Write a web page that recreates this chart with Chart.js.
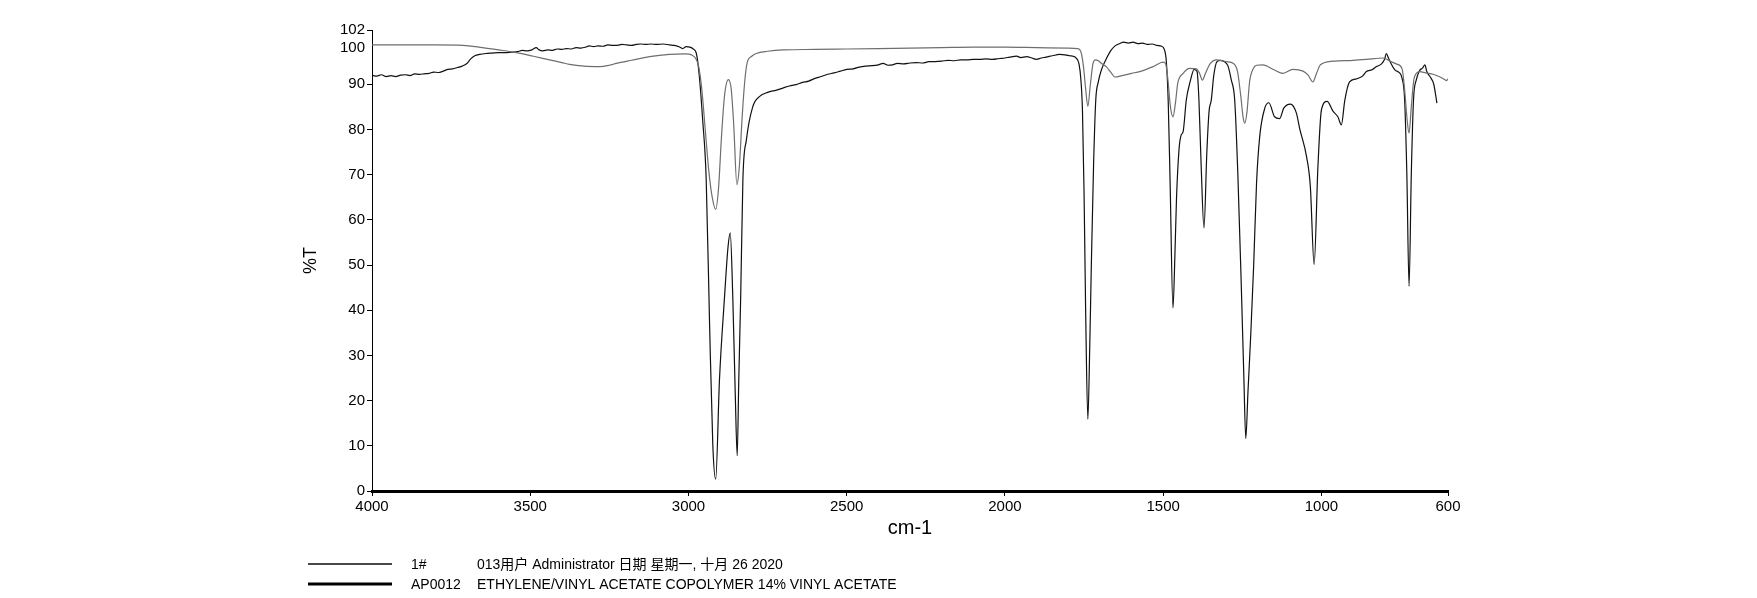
<!DOCTYPE html>
<html>
<head>
<meta charset="utf-8">
<script src="https://cdn.jsdelivr.net/npm/chart.js@4.4.1/dist/chart.umd.min.js"></script>
<style>
  html, body { margin: 0; padding: 0; background: #fff; }
  canvas { display: block; }
</style>
</head>
<body>
<canvas id="ir-chart" width="1757" height="598"></canvas>
<script>
// wavenumber axis (cm-1) and %T axis
const xTicks = [4000, 3500, 3000, 2500, 2000, 1500, 1000, 600];
const yTicks = [0, 10, 20, 30, 40, 50, 60, 70, 80, 90, 100, 102];

// legend rows
const seriesNames = ['1#', 'AP0012'];
const seriesNotes = [
  '013用户 Administrator 日期 星期一, 十月 26 2020',
  'ETHYLENE/VINYL ACETATE COPOLYMER 14% VINYL ACETATE',
];

// 1# (smooth, shallow bands)
const sampleWn = [4000, 3900, 3800, 3713, 3651, 3600, 3544, 3490, 3439, 3400, 3376, 3330, 3281, 3250, 3228, 3180, 3123, 3060, 3010, 2990,
  2978, 2968, 2958, 2947, 2936, 2925, 2914, 2905, 2896, 2886, 2874, 2865, 2857, 2847, 2839, 2831, 2823, 2815, 2800, 2786,
  2750, 2700, 2600, 2500, 2400, 2300, 2200, 2100, 2000, 1900, 1800, 1770, 1760, 1752, 1745, 1738, 1730, 1722, 1714, 1705,
  1695, 1680, 1665, 1653, 1630, 1600, 1574, 1532, 1500, 1492, 1485, 1477, 1469, 1461, 1454, 1437, 1416, 1395, 1385, 1376,
  1367, 1352, 1332, 1300, 1278, 1265, 1255, 1247, 1242, 1235, 1227, 1215, 1205, 1185, 1150, 1121, 1090, 1058, 1042, 1027,
  1015, 1003, 963, 900, 858, 805, 780, 760, 745, 736, 729, 723, 716, 708, 700, 689, 670, 647, 625, 610, 605, 600];
const sampleT = [98.7, 98.7, 98.7, 98.6, 98.1, 97.6, 97.0, 96.2, 95.4, 94.8, 94.4, 94.0, 93.9, 94.2, 94.6, 95.3, 96.1, 96.6, 96.7, 96.5,
  95.8, 94.0, 89.0, 80.0, 71.0, 65.0, 62.3, 67.0, 78.0, 87.5, 91.0, 89.0, 81.0, 67.8, 72.0, 82.0, 90.0, 94.6, 96.2, 96.8,
  97.3, 97.6, 97.7, 97.8, 97.9, 98.0, 98.1, 98.2, 98.2, 98.1, 98.0, 97.9, 97.2, 94.0, 89.0, 85.1, 90.0, 94.5, 95.4, 95.2,
  94.6, 93.9, 92.6, 91.6, 91.9, 92.4, 92.8, 93.9, 94.9, 94.5, 91.0, 85.0, 82.8, 86.0, 90.2, 92.4, 93.5, 93.4, 92.4, 90.9,
  92.3, 94.5, 95.4, 95.0, 94.6, 92.8, 87.5, 82.5, 81.4, 84.0, 90.5, 93.5, 94.2, 94.3, 93.2, 92.4, 93.3, 92.9, 92.0, 90.5,
  92.5, 94.3, 95.1, 95.3, 95.5, 95.8, 95.0, 94.4, 93.4, 88.0, 82.0, 79.2, 85.0, 91.0, 92.4, 92.8, 92.5, 92.2, 91.6, 91.0, 90.8, 91.2];

// AP0012 (noisy, strong bands)
const refWn = [4000, 3985, 3970, 3955, 3940, 3925, 3910, 3895, 3880, 3865, 3850, 3835, 3820, 3805, 3790, 3775, 3760, 3745, 3730, 3715,
  3700, 3688, 3675, 3660, 3640, 3620, 3600, 3580, 3560, 3540, 3525, 3510, 3495, 3481, 3472, 3460, 3445, 3430, 3415, 3400,
  3386, 3370, 3355, 3340, 3325, 3313, 3300, 3285, 3270, 3255, 3240, 3225, 3210, 3195, 3180, 3165, 3150, 3135, 3120, 3100,
  3080, 3060, 3045, 3030, 3018, 3008, 2995, 2985, 2975, 2966, 2955, 2944, 2933, 2923, 2914, 2902, 2886, 2875, 2868, 2860,
  2852, 2846, 2841, 2835, 2828, 2817, 2797, 2775, 2750, 2722, 2700, 2681, 2660, 2640, 2620, 2600, 2580, 2560, 2540, 2520,
  2500, 2480, 2460, 2440, 2420, 2400, 2385, 2370, 2355, 2340, 2320, 2300, 2280, 2260, 2240, 2220, 2200, 2180, 2160, 2140,
  2120, 2100, 2080, 2060, 2040, 2017, 2000, 1985, 1963, 1950, 1931, 1915, 1901, 1885, 1870, 1850, 1827, 1810, 1795, 1785,
  1775, 1766, 1760, 1755, 1750, 1745, 1738, 1732, 1727, 1720, 1713, 1705, 1695, 1680, 1665, 1650, 1637, 1625, 1610, 1595,
  1580, 1565, 1550, 1535, 1520, 1505, 1497, 1490, 1484, 1478, 1469, 1463, 1458, 1450, 1443, 1437, 1427, 1415, 1402, 1393,
  1387, 1380, 1371, 1362, 1355, 1348, 1340, 1330, 1318, 1305, 1295, 1285, 1274, 1264, 1253, 1245, 1239, 1232, 1223, 1214,
  1205, 1195, 1179, 1166, 1148, 1132, 1119, 1098, 1079, 1069, 1047, 1035, 1023, 1011, 1000, 982, 963, 948, 937, 926,
  911, 889, 870, 858, 840, 826, 810, 800, 795, 788, 780, 768, 755, 746, 737, 730, 723, 716, 709, 700,
  690, 680, 673, 667, 655, 645, 635];
const refT = [92.0, 91.8, 92.1, 91.7, 91.9, 91.7, 92.0, 92.1, 91.9, 92.3, 92.2, 92.3, 92.4, 92.7, 92.6, 92.9, 93.3, 93.4, 93.7, 94.0,
  94.6, 95.6, 96.3, 96.6, 96.8, 96.9, 97.0, 97.0, 97.1, 97.2, 97.5, 97.4, 97.6, 98.1, 97.6, 97.4, 97.6, 97.5, 97.8, 97.7,
  97.9, 97.8, 98.1, 98.0, 98.2, 98.5, 98.3, 98.5, 98.4, 98.7, 98.6, 98.6, 98.8, 98.7, 98.6, 98.8, 98.9, 98.8, 98.9, 98.8,
  98.9, 98.7, 98.6, 98.3, 97.9, 98.3, 98.2, 97.8, 96.8, 92.0, 82.0, 69.0, 36.0, 10.0, 2.6, 24.7, 43.0, 54.0, 57.1, 43.0,
  21.0, 7.8, 24.7, 43.0, 69.0, 77.7, 85.0, 87.3, 88.2, 88.7, 89.2, 89.6, 89.9, 90.4, 90.7, 91.3, 91.7, 92.2, 92.5, 92.9,
  93.3, 93.4, 93.8, 94.0, 94.1, 94.3, 94.6, 94.2, 94.3, 94.6, 94.5, 94.7, 94.8, 94.7, 95.0, 95.0, 95.1, 95.3, 95.2, 95.4,
  95.4, 95.5, 95.5, 95.6, 95.5, 95.7, 95.8, 96.0, 96.2, 95.9, 96.1, 95.8, 95.5, 95.8, 96.0, 96.3, 96.6, 96.5, 96.3, 96.2,
  95.8, 94.5, 91.0, 84.0, 66.0, 40.0, 15.9, 32.0, 50.0, 72.0, 86.5, 90.5, 93.2, 95.6, 97.5, 98.6, 99.0, 99.3, 99.1, 99.3,
  99.0, 99.1, 98.8, 98.9, 98.6, 98.4, 97.8, 95.0, 86.0, 68.0, 40.5, 52.0, 64.5, 75.5, 78.8, 79.5, 86.5, 90.5, 93.3, 92.8,
  86.5, 72.0, 58.2, 75.0, 84.0, 86.5, 92.0, 95.0, 95.3, 94.9, 94.0, 91.0, 86.5, 70.0, 45.0, 25.0, 11.6, 22.0, 35.0, 50.0,
  68.1, 78.4, 84.7, 85.9, 82.8, 82.4, 84.7, 85.6, 83.6, 80.3, 74.0, 67.4, 50.1, 71.8, 84.3, 86.2, 84.0, 82.8, 81.0, 86.5,
  90.5, 91.2, 91.8, 92.8, 93.2, 93.9, 94.5, 95.6, 96.8, 95.8, 94.6, 93.2, 92.6, 91.5, 86.5, 70.0, 45.3, 70.0, 86.5, 91.0,
  93.0, 93.6, 94.3, 92.8, 91.5, 90.0, 85.8];

const toPoints = (xs, ys) => xs.map((x, i) => ({ x, y: ys[i] }));

const FONT = "'Liberation Sans', Arial, 'Noto Sans CJK SC', sans-serif";
const lineColors = ['#6e6e6e', '#111111'];
const legendColors = ['#474747', '#000000'];

// draws the two-row legend under the axis and the shifted "100" label
const spectrumLegend = {
  id: 'spectrumLegend',
  afterDraw(chart) {
    const { ctx } = chart;
    const y = chart.scales.y;
    ctx.save();
    ctx.font = `15px ${FONT}`;
    ctx.fillStyle = '#000';
    ctx.textAlign = 'right';
    ctx.textBaseline = 'middle';
    ctx.fillText('100', y.right - 7, y.getPixelForValue(100) + 9);

    ctx.textAlign = 'left';
    ctx.font = `14px ${FONT}`;
    const rows = [564, 584];
    const widths = [2, 3];
    seriesNames.forEach((name, i) => {
      ctx.strokeStyle = legendColors[i];
      ctx.lineWidth = widths[i];
      ctx.beginPath();
      ctx.moveTo(308, rows[i]);
      ctx.lineTo(392, rows[i]);
      ctx.stroke();
      ctx.fillText(name, 411, rows[i] + 1);
      ctx.fillText(seriesNotes[i], 477, rows[i] + 1);
    });
    ctx.restore();
  },
};

new Chart(document.getElementById('ir-chart'), {
  type: 'line',
  data: {
    datasets: [
      {
        label: seriesNames[0],
        data: toPoints(sampleWn, sampleT),
        borderColor: lineColors[0],
        borderWidth: 1.2,
      },
      {
        label: seriesNames[1],
        data: toPoints(refWn, refT),
        borderColor: lineColors[1],
        borderWidth: 1.2,
      },
    ],
  },
  options: {
    responsive: false,
    animation: false,
    devicePixelRatio: 1,
    elements: {
      point: { radius: 0 },
      line: { cubicInterpolationMode: 'monotone', fill: false },
    },
    layout: { padding: { left: 0, right: 309, top: 30, bottom: 0 } },
    plugins: {
      legend: { display: false },
      tooltip: { enabled: false },
    },
    scales: {
      x: {
        type: 'linear',
        reverse: true,
        min: 600,
        max: 4000,
        afterBuildTicks: (scale) => { scale.ticks = xTicks.map((value) => ({ value })); },
        afterFit: (scale) => { scale.height = 107; },
        border: { display: true, color: '#000', width: 3 },
        grid: { drawOnChartArea: false, drawTicks: true, tickLength: 5, color: '#000', lineWidth: 1 },
        ticks: {
          autoSkip: false,
          maxRotation: 0,
          padding: 2,
          color: '#000',
          font: { family: FONT, size: 15 },
          callback: (v) => String(v),
        },
        title: {
          display: true,
          text: 'cm-1',
          color: '#000',
          font: { family: FONT, size: 20 },
          padding: { top: 0, bottom: 58 },
        },
      },
      y: {
        type: 'linear',
        min: 0,
        max: 102,
        afterBuildTicks: (scale) => { scale.ticks = yTicks.map((value) => ({ value })); },
        afterFit: (scale) => { scale.width = 372; },
        border: { display: true, color: '#000', width: 1 },
        grid: {
          drawOnChartArea: false,
          drawTicks: true,
          tickLength: 5,
          color: (ctx) => (ctx.tick && ctx.tick.value === 100 ? 'rgba(0,0,0,0)' : '#000'),
          lineWidth: 1,
        },
        ticks: {
          autoSkip: false,
          padding: 2,
          color: '#000',
          font: { family: FONT, size: 15 },
          callback: (v) => (v === 100 ? '' : String(v)),
        },
        title: {
          display: true,
          text: '%T',
          color: '#000',
          font: { family: FONT, size: 18 },
          padding: { top: 300, bottom: 0 },
        },
      },
    },
  },
  plugins: [spectrumLegend],
});
</script>
</body>
</html>
